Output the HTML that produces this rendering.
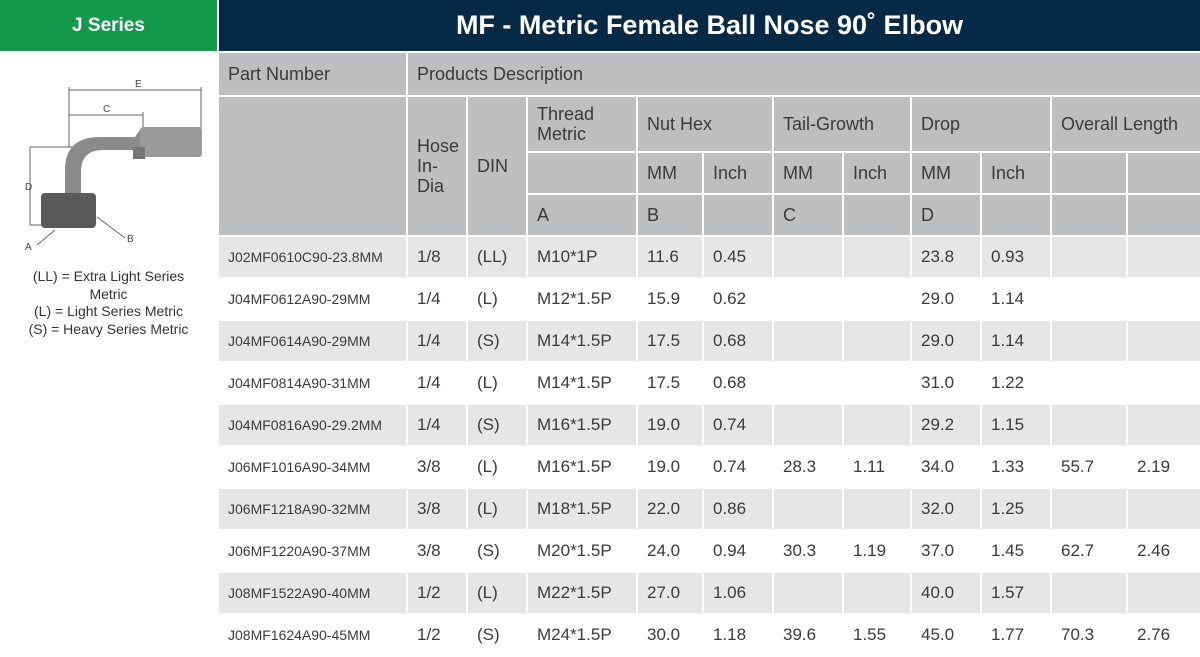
<!DOCTYPE html>
<html><head><meta charset="utf-8"><style>
*{margin:0;padding:0;box-sizing:border-box}
body{width:1200px;height:656px;overflow:hidden;background:#fff;font-family:"Liberation Sans",sans-serif;color:#3a3a3a;position:relative}
#g{position:absolute;left:0;top:0;width:217px;height:51px;background:#129a4a;color:#fff;font-weight:bold;font-size:19px;text-align:center;line-height:51px}
#n{position:absolute;left:219px;top:0;width:981px;height:51px;background:#062a45;color:#fff;font-weight:bold;font-size:27px;text-align:center;line-height:51px}
table{position:absolute;left:217px;top:51px;width:983px;border-collapse:collapse;table-layout:fixed}
td{border:2px solid #fff;padding:0 0 0 9px;font-size:17px;vertical-align:middle;background:#fff;white-space:nowrap;overflow:hidden}
tr.h td{background:#bdbec0;font-size:18px}
tr.h td.w{white-space:normal;line-height:20px}
tr.g td{background:#e6e6e7}
td.p{font-size:14px}
#leg{position:absolute;left:0;top:268px;width:217px;text-align:center;font-size:14px;line-height:17.5px;color:#333}
</style></head><body>
<div id="g">J Series</div>
<div id="n">MF - Metric Female Ball Nose 90˚ Elbow</div>
<svg style="position:absolute;left:15px;top:75px" width="190" height="180" viewBox="0 0 190 180">
<g stroke="#666" stroke-width="1" fill="none">
<line x1="54" y1="15" x2="186" y2="15"/><line x1="54" y1="40" x2="128" y2="40"/>
<line x1="54" y1="12" x2="54" y2="72"/><line x1="128" y1="37" x2="128" y2="60"/><line x1="186" y1="12" x2="186" y2="55"/>
<line x1="15" y1="72" x2="70" y2="72"/><line x1="15" y1="150" x2="40" y2="150"/><line x1="15" y1="72" x2="15" y2="150"/>
<path d="M40 155 L22 170 M82 142 L110 163"/></g>
<text x="120" y="12" font-size="10" fill="#444" font-family="Liberation Sans">E</text>
<text x="88" y="37" font-size="10" fill="#444" font-family="Liberation Sans">C</text>
<text x="10" y="115" font-size="10" fill="#444" font-family="Liberation Sans">D</text>
<text x="10" y="175" font-size="10" fill="#444" font-family="Liberation Sans">A</text>
<text x="112" y="167" font-size="10" fill="#444" font-family="Liberation Sans">B</text>
<path d="M50 120 L50 95 Q50 62 85 62 L120 62 L125 55 L140 55 L140 70 L120 75 L88 75 Q66 75 66 97 L66 120 Z" fill="#8a8a8a"/>
<rect x="125" y="52" width="62" height="30" rx="3" fill="#9a9a9a"/>
<rect x="118" y="72" width="12" height="12" fill="#777"/>
<rect x="26" y="118" width="55" height="35" rx="4" fill="#5a5a5a"/>
</svg>
<div id="leg">(LL) = Extra Light Series<br>Metric<br>(L) = Light Series Metric<br>(S) = Heavy Series Metric</div>
<table>
<colgroup><col style="width:189px"><col style="width:60px"><col style="width:60px"><col style="width:110px"><col style="width:66px"><col style="width:70px"><col style="width:70px"><col style="width:68px"><col style="width:70px"><col style="width:70px"><col style="width:76px"><col style="width:74px"></colgroup>
<tr class="h" style="height:44px"><td>Part Number</td><td colspan="11">Products Description</td></tr>
<tr class="h" style="height:56px"><td rowspan="3"></td><td rowspan="3" class="w">Hose In-<br>Dia</td><td rowspan="3">DIN</td><td class="w">Thread Metric</td><td colspan="2">Nut Hex</td><td colspan="2">Tail-Growth</td><td colspan="2">Drop</td><td colspan="2">Overall Length</td></tr>
<tr class="h" style="height:42px"><td></td><td>MM</td><td>Inch</td><td>MM</td><td>Inch</td><td>MM</td><td>Inch</td><td></td><td></td></tr>
<tr class="h" style="height:42px"><td>A</td><td>B</td><td></td><td>C</td><td></td><td>D</td><td></td><td></td><td></td></tr>
<tr class="g" style="height:42px"><td class="p">J02MF0610C90-23.8MM</td><td>1/8</td><td>(LL)</td><td>M10*1P</td><td>11.6</td><td>0.45</td><td></td><td></td><td>23.8</td><td>0.93</td><td></td><td></td></tr>
<tr style="height:42px"><td class="p">J04MF0612A90-29MM</td><td>1/4</td><td>(L)</td><td>M12*1.5P</td><td>15.9</td><td>0.62</td><td></td><td></td><td>29.0</td><td>1.14</td><td></td><td></td></tr>
<tr class="g" style="height:42px"><td class="p">J04MF0614A90-29MM</td><td>1/4</td><td>(S)</td><td>M14*1.5P</td><td>17.5</td><td>0.68</td><td></td><td></td><td>29.0</td><td>1.14</td><td></td><td></td></tr>
<tr style="height:42px"><td class="p">J04MF0814A90-31MM</td><td>1/4</td><td>(L)</td><td>M14*1.5P</td><td>17.5</td><td>0.68</td><td></td><td></td><td>31.0</td><td>1.22</td><td></td><td></td></tr>
<tr class="g" style="height:42px"><td class="p">J04MF0816A90-29.2MM</td><td>1/4</td><td>(S)</td><td>M16*1.5P</td><td>19.0</td><td>0.74</td><td></td><td></td><td>29.2</td><td>1.15</td><td></td><td></td></tr>
<tr style="height:42px"><td class="p">J06MF1016A90-34MM</td><td>3/8</td><td>(L)</td><td>M16*1.5P</td><td>19.0</td><td>0.74</td><td>28.3</td><td>1.11</td><td>34.0</td><td>1.33</td><td>55.7</td><td>2.19</td></tr>
<tr class="g" style="height:42px"><td class="p">J06MF1218A90-32MM</td><td>3/8</td><td>(L)</td><td>M18*1.5P</td><td>22.0</td><td>0.86</td><td></td><td></td><td>32.0</td><td>1.25</td><td></td><td></td></tr>
<tr style="height:42px"><td class="p">J06MF1220A90-37MM</td><td>3/8</td><td>(S)</td><td>M20*1.5P</td><td>24.0</td><td>0.94</td><td>30.3</td><td>1.19</td><td>37.0</td><td>1.45</td><td>62.7</td><td>2.46</td></tr>
<tr class="g" style="height:42px"><td class="p">J08MF1522A90-40MM</td><td>1/2</td><td>(L)</td><td>M22*1.5P</td><td>27.0</td><td>1.06</td><td></td><td></td><td>40.0</td><td>1.57</td><td></td><td></td></tr>
<tr style="height:42px"><td class="p">J08MF1624A90-45MM</td><td>1/2</td><td>(S)</td><td>M24*1.5P</td><td>30.0</td><td>1.18</td><td>39.6</td><td>1.55</td><td>45.0</td><td>1.77</td><td>70.3</td><td>2.76</td></tr>
</table>
</body></html>
